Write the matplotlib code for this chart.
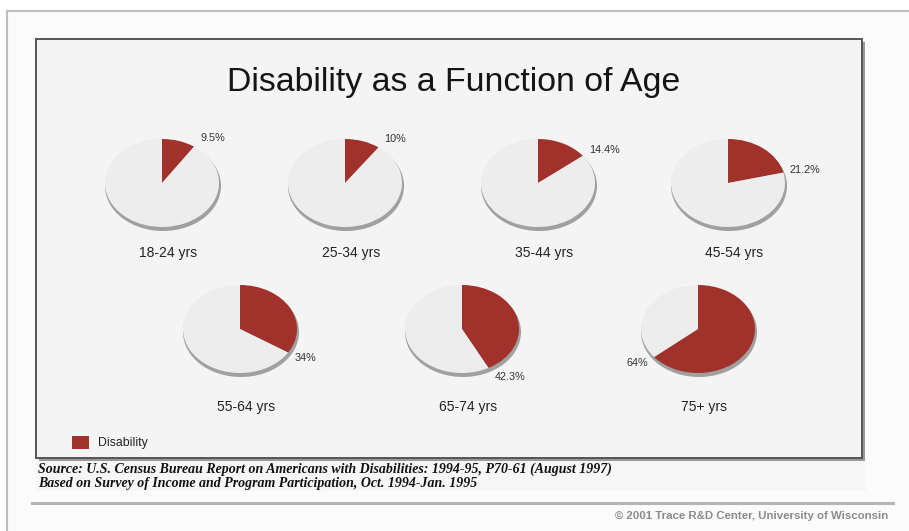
#!/usr/bin/env python3
"""Disability as a function of age: seven small pies on a slide-like panel."""

import matplotlib.pyplot as plt
from matplotlib.patches import Rectangle, Ellipse
import numpy as np

# Data
age_groups = ["18-24 yrs", "25-34 yrs", "35-44 yrs", "45-54 yrs",
              "55-64 yrs", "65-74 yrs", "75+ yrs"]
disability_pct = [9.5, 10, 14.4, 21.2, 34, 42.3, 64]
pct_labels = ["9.5%", "10%", "14.4%", "21.2%", "34%", "42.3%", "64%"]

title = "Disability as a Function of Age"
source_lines = [
    "Source: U.S. Census Bureau Report on Americans with Disabilities: 1994-95, P70-61 (August 1997)",
    "Based on Survey of Income and Program Participation, Oct. 1994-Jan. 1995",
]
credit = "\u00a9 2001 Trace R&D Center, University of Wisconsin"

# Style
W, H = 909, 531
DPI = 100
RED = "#a1322b"
PIE_BG = "#ededed"
RIM = "#a0a0a0"
PANEL = "#f4f4f4"
FONT = ["Liberation Sans", "DejaVu Sans"]

# pie centres in pixels (layout), pie size, and row label offsets
centers = [(162, 183), (345, 183), (538, 183), (728, 183),
           (240, 329), (462, 329), (698, 329)]
rows = [0, 0, 0, 0, 1, 1, 1]
PIE_W, PIE_H = 114, 88

plt.rcParams["font.family"] = FONT

fig = plt.figure(figsize=(W / DPI, H / DPI), dpi=DPI)
fig.patch.set_facecolor("white")

bg = fig.add_axes([0, 0, 1, 1])
bg.set_xlim(0, W)
bg.set_ylim(H, 0)
bg.axis("off")

# outer slide frame
bg.add_patch(Rectangle((7, 11), W, H, facecolor="#fbfbfb",
                       edgecolor="#bdbdbd", linewidth=1.5))
# source strip
bg.add_patch(Rectangle((36, 458), 830, 33, facecolor="#f6f6f6", edgecolor="none"))
# inner panel with shadow
bg.add_patch(Rectangle((39, 42), 826, 419, facecolor="#9a9a9a", edgecolor="none"))
bg.add_patch(Rectangle((36, 39), 826, 419, facecolor=PANEL,
                       edgecolor="#555555", linewidth=1.4))
# separator line
bg.plot([32, 893], [503, 503], color="#b5b5b5", linewidth=2.2)

bg.text(454, 83, title, ha="center", va="center", fontsize=24.4, color="#151515")

# legend
bg.add_patch(Rectangle((72, 436), 17, 13, facecolor=RED, edgecolor="none"))
bg.text(98, 443, "Disability", ha="left", va="center", fontsize=8.8, color="#222222")

for i, line in enumerate(source_lines):
    bg.text(38, 469 + 15 * i, line, ha="left", va="center", fontsize=10,
            family="Liberation Serif", style="italic", weight="bold",
            color="#111111")

bg.text(888, 516, credit, ha="right", va="center", fontsize=8.2,
        weight="bold", color="#8a8a8a")

for (cx, cy), row, age, pct, lab in zip(centers, rows, age_groups,
                                        disability_pct, pct_labels):
    # rim / thickness of the tilted disc
    bg.add_patch(Ellipse((cx + 1, cy + 3), PIE_W + 2, PIE_H + 2,
                         facecolor=RIM, edgecolor="none"))
    ax = fig.add_axes([(cx - PIE_W / 2) / W, 1 - (cy + PIE_H / 2) / H,
                       PIE_W / W, PIE_H / H])
    ax.pie([pct, 100 - pct], colors=[RED, PIE_BG], startangle=90,
           counterclock=False, radius=1,
           wedgeprops=dict(edgecolor="none", linewidth=0))
    ax.set_aspect("auto")
    ax.set_xlim(-1, 1)
    ax.set_ylim(-1, 1)
    ax.axis("off")

    # percentage label beside the end of the red wedge
    theta = np.deg2rad(90 - 3.6 * pct)
    ex = cx + (PIE_W / 2) * np.cos(theta)
    ey = cy - (PIE_H / 2) * np.sin(theta)
    right = np.cos(theta) >= 0
    lx = ex + (6 if right else -6)
    ly = ey - 10 * np.sin(theta)
    bg.text(lx, ly, lab, ha="left" if right else "right", va="center",
            fontsize=7.8, color="#333333")

    bg.text(cx + 6, cy + 70 + 8 * row, age, ha="center", va="center",
            fontsize=10, color="#222222")

fig.savefig("out.png", dpi=DPI)
